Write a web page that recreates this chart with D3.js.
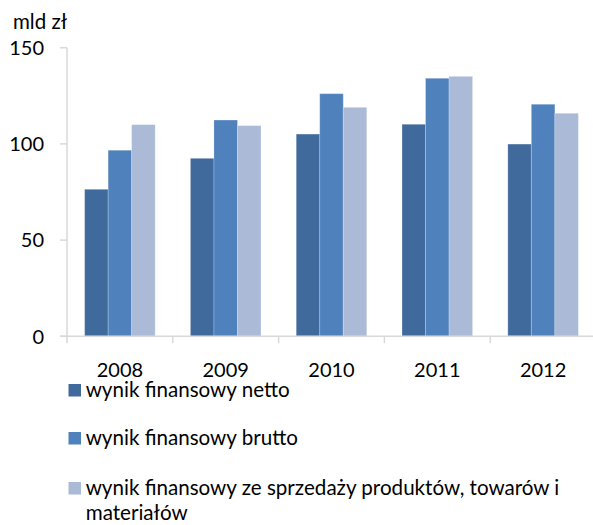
<!DOCTYPE html>
<html>
<head>
<meta charset="utf-8">
<script src="https://cdn.jsdelivr.net/npm/d3@7"></script>
<style>
  html, body { margin: 0; padding: 0; background: #fff; }
  svg { display: block; font-family: Lato, "Open Sans", sans-serif; }
</style>
</head>
<body>
<svg id="chart" width="593" height="525"></svg>
<script>
const years = ["2008", "2009", "2010", "2011", "2012"];
const seriesNames = [
  "wynik finansowy netto",
  "wynik finansowy brutto",
  "wynik finansowy ze sprzedaży produktów, towarów i materiałów"
];
const netto = [76.4, 92.5, 105.1, 110.2, 99.9];
const brutto = [96.7, 112.4, 126.1, 134.1, 120.6];
const sprzedaz = [110.0, 109.5, 119.0, 135.1, 115.9];
const yTicks = [0, 50, 100, 150];
const unitLabel = "mld zł";
const colors = ["#406A9C", "#4F81BD", "#AABAD7"];

const svg = d3.select("#chart");
const allSeries = [netto, brutto, sprzedaz];

const x = d3.scaleBand().domain(years).range([67, 596]).paddingInner(0).paddingOuter(0);
const y = d3.scaleLinear().domain([0, 150]).range([336.3, 47.7]);

const gap = 1.5; // gap width 150% of bar
const barW = x.bandwidth() / (3 + gap);
const xs = d3.scaleBand().domain([0, 1, 2]).range([barW * gap / 2, barW * gap / 2 + barW * 3]);

// bars
const groups = svg.append("g").selectAll("g")
  .data(years)
  .join("g")
  .attr("transform", d => `translate(${x(d)},0)`);

groups.selectAll("rect")
  .data((d, i) => allSeries.map((s, k) => ({ k, v: s[i] })))
  .join("rect")
  .attr("x", d => xs(d.k))
  .attr("width", xs.bandwidth())
  .attr("y", d => y(d.v))
  .attr("height", d => y(0) - y(d.v))
  .attr("fill", d => colors[d.k])
  .attr("stroke", "rgba(255,255,255,0.22)")
  .attr("stroke-width", 1);

// y axis
const axisColor = "#D9D9D9";
svg.append("line")
  .attr("x1", 67).attr("x2", 67)
  .attr("y1", y(150)).attr("y2", y(0))
  .attr("stroke", axisColor).attr("stroke-width", 1.5);
svg.append("g").selectAll("line")
  .data(yTicks).join("line")
  .attr("x1", 60).attr("x2", 67)
  .attr("y1", d => y(d)).attr("y2", d => y(d))
  .attr("stroke", axisColor).attr("stroke-width", 1.5);
svg.append("g").selectAll("text")
  .data(yTicks).join("text")
  .attr("x", 44)
  .attr("y", d => y(d))
  .attr("dy", "0.36em")
  .attr("text-anchor", "end")
  .attr("font-size", 20)
  .attr("fill", "#000")
  .text(d => d);

// x axis
svg.append("line")
  .attr("x1", 60).attr("x2", 596)
  .attr("y1", y(0)).attr("y2", y(0))
  .attr("stroke", axisColor).attr("stroke-width", 1.5);
const boundaries = years.map(d => x(d)).concat([x(years[years.length - 1]) + x.bandwidth()]);
svg.append("g").selectAll("line")
  .data(boundaries).join("line")
  .attr("x1", d => d).attr("x2", d => d)
  .attr("y1", y(0)).attr("y2", y(0) + 7)
  .attr("stroke", axisColor).attr("stroke-width", 1.5);
svg.append("g").selectAll("text")
  .data(years).join("text")
  .attr("x", d => x(d) + x.bandwidth() / 2)
  .attr("y", 376.5)
  .attr("text-anchor", "middle")
  .attr("font-size", 20)
  .attr("fill", "#000")
  .text(d => d);

// unit label
svg.append("text")
  .attr("x", 13).attr("y", 28.5)
  .attr("font-size", 20.5)
  .attr("fill", "#000")
  .text(unitLabel);

// legend
const legendLines = [
  [seriesNames[0]],
  [seriesNames[1]],
  ["wynik finansowy ze sprzedaży produktów, towarów i", "materiałów"]
];
const legendTop = [384, 432, 482];
const leg = svg.append("g").selectAll("g")
  .data(legendLines).join("g")
  .attr("transform", (d, i) => `translate(68.5,${legendTop[i]})`);
leg.append("rect")
  .attr("width", 12.5).attr("height", 12.5)
  .attr("fill", (d, i) => colors[i]);
leg.each(function(lines) {
  const t = d3.select(this).append("text")
    .attr("x", 17.2).attr("y", 13)
    .attr("font-size", 20.6)
    .attr("fill", "#000");
  lines.forEach((ln, j) => {
    t.append("tspan").attr("x", 17.2).attr("y", 13 + j * 25).text(ln);
  });
});
</script>
</body>
</html>
